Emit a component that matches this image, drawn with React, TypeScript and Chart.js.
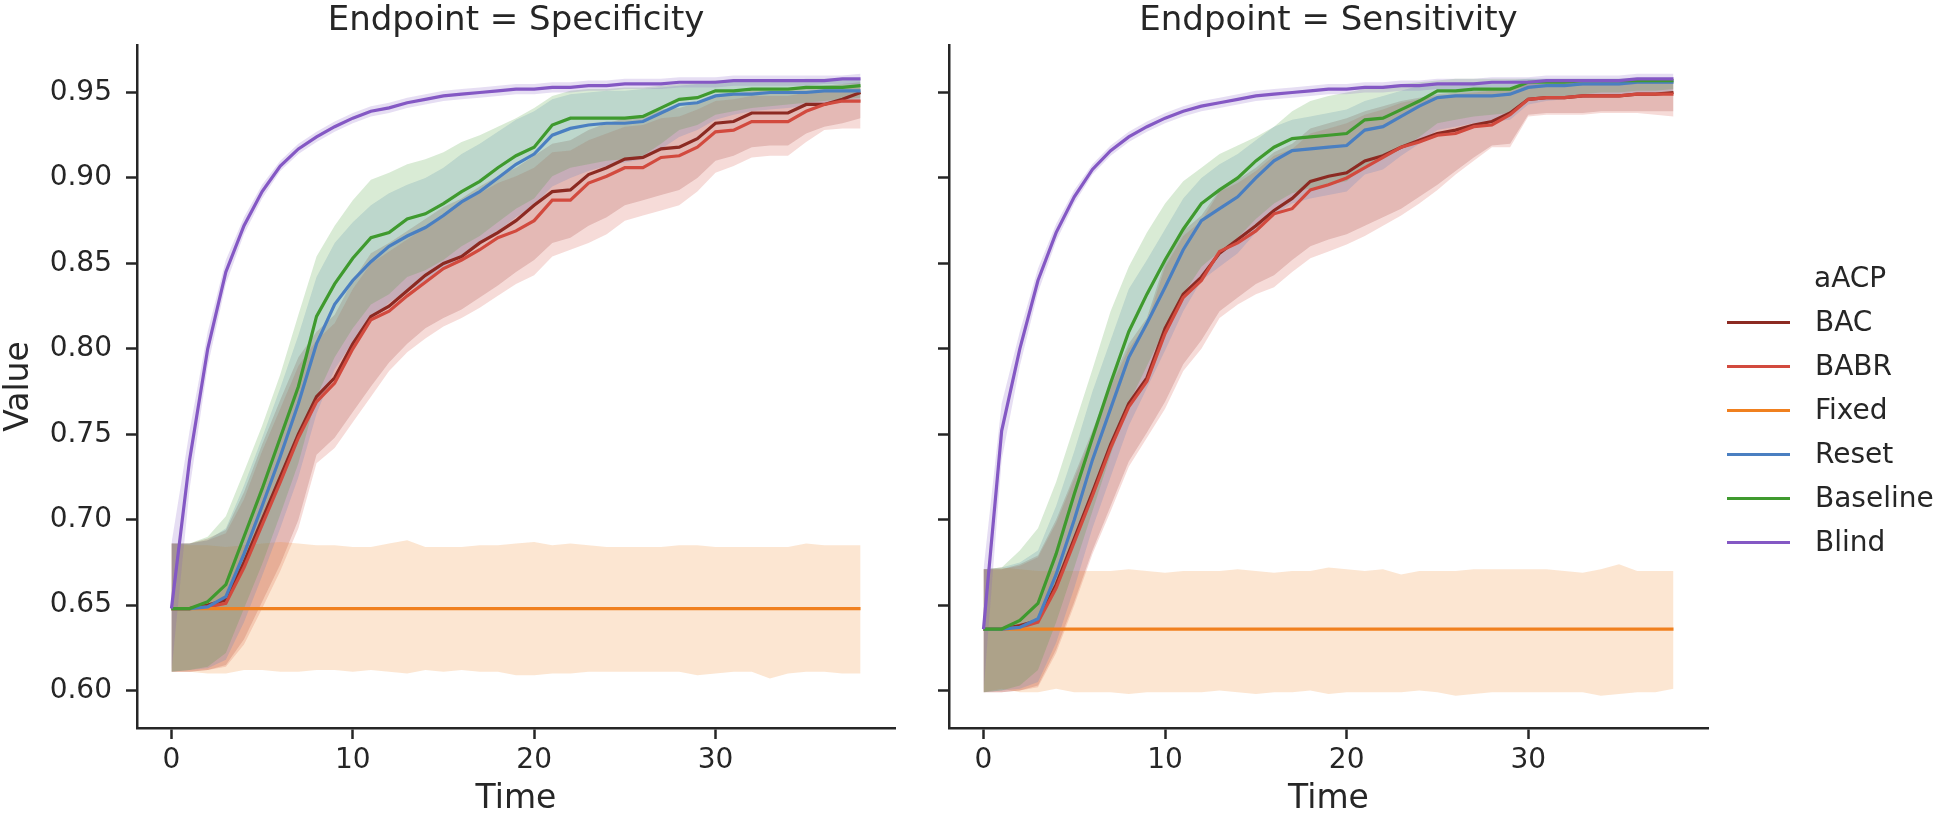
import React, { useEffect, useRef } from 'react';
import { Chart, registerables } from 'chart.js';

Chart.register(...registerables);

// ---------------- data ----------------
const TIME = [0, 1, 2, 3, 4, 5, 6, 7, 8, 9, 10, 11, 12, 13, 14, 15, 16, 17, 18, 19, 20, 21, 22, 23, 24, 25, 26, 27, 28, 29, 30, 31, 32, 33, 34, 35, 36, 37, 38];
const X_TICKS = [0, 10, 20, 30];
const Y_TICKS = [0.6, 0.65, 0.7, 0.75, 0.8, 0.85, 0.9, 0.95];
const SERIES_NAMES = ['BAC', 'BABR', 'Fixed', 'Reset', 'Baseline', 'Blind'];
const SERIES_COLORS = ['#8c2a22', '#d24a3e', '#f0801f', '#4a7fc1', '#3f9a2e', '#8458c4'];
const LEGEND_TITLE = 'aACP';
const PANEL_TITLES = ['Endpoint = Specificity', 'Endpoint = Sensitivity'];

// ---- Specificity ----
const SPEC_BAC_MEAN = [
  0.648, 0.648, 0.650, 0.653, 0.675, 0.700, 0.725, 0.750, 0.772, 0.783,
  0.803, 0.819, 0.825, 0.834, 0.843, 0.850, 0.854, 0.862, 0.868, 0.875,
  0.884, 0.892, 0.893, 0.902, 0.906, 0.911, 0.912, 0.917, 0.918, 0.923,
  0.932, 0.933, 0.938, 0.938, 0.938, 0.943, 0.943, 0.946, 0.950];
const SPEC_BAC_LO = [
  0.611, 0.611, 0.612, 0.615, 0.630, 0.652, 0.674, 0.700, 0.738, 0.748,
  0.763, 0.778, 0.792, 0.803, 0.812, 0.818, 0.823, 0.830, 0.837, 0.845,
  0.852, 0.862, 0.865, 0.872, 0.877, 0.884, 0.887, 0.890, 0.893, 0.900,
  0.910, 0.913, 0.918, 0.919, 0.919, 0.926, 0.930, 0.932, 0.935];
const SPEC_BAC_HI = [
  0.686, 0.686, 0.689, 0.694, 0.716, 0.744, 0.770, 0.795, 0.810, 0.820,
  0.840, 0.856, 0.862, 0.869, 0.876, 0.883, 0.888, 0.895, 0.901, 0.906,
  0.913, 0.920, 0.922, 0.928, 0.932, 0.935, 0.936, 0.940, 0.941, 0.944,
  0.948, 0.949, 0.951, 0.951, 0.951, 0.953, 0.954, 0.955, 0.956];

const SPEC_BABR_MEAN = [
  0.648, 0.648, 0.649, 0.651, 0.672, 0.697, 0.722, 0.748, 0.769, 0.780,
  0.800, 0.817, 0.822, 0.831, 0.839, 0.847, 0.852, 0.858, 0.865, 0.869,
  0.875, 0.887, 0.887, 0.897, 0.901, 0.906, 0.906, 0.912, 0.913, 0.918,
  0.927, 0.928, 0.933, 0.933, 0.933, 0.939, 0.943, 0.945, 0.945];
const SPEC_BABR_LO = [
  0.611, 0.611, 0.612, 0.614, 0.627, 0.648, 0.670, 0.695, 0.733, 0.742,
  0.757, 0.772, 0.787, 0.798, 0.806, 0.813, 0.818, 0.824, 0.831, 0.838,
  0.843, 0.854, 0.858, 0.862, 0.867, 0.875, 0.878, 0.881, 0.884, 0.892,
  0.903, 0.907, 0.912, 0.913, 0.913, 0.921, 0.928, 0.929, 0.929];
const SPEC_BABR_HI = [
  0.686, 0.686, 0.688, 0.692, 0.712, 0.740, 0.765, 0.790, 0.805, 0.815,
  0.835, 0.850, 0.857, 0.864, 0.871, 0.879, 0.885, 0.891, 0.897, 0.901,
  0.906, 0.915, 0.916, 0.922, 0.926, 0.930, 0.931, 0.935, 0.936, 0.940,
  0.945, 0.946, 0.948, 0.948, 0.948, 0.950, 0.952, 0.953, 0.953];

const SPEC_FIXED_MEAN = [
  0.648, 0.648, 0.648, 0.648, 0.648, 0.648, 0.648, 0.648, 0.648, 0.648,
  0.648, 0.648, 0.648, 0.648, 0.648, 0.648, 0.648, 0.648, 0.648, 0.648,
  0.648, 0.648, 0.648, 0.648, 0.648, 0.648, 0.648, 0.648, 0.648, 0.648,
  0.648, 0.648, 0.648, 0.648, 0.648, 0.648, 0.648, 0.648, 0.648];
const SPEC_FIXED_LO = [
  0.611, 0.611, 0.610, 0.610, 0.612, 0.612, 0.611, 0.611, 0.612, 0.612,
  0.611, 0.612, 0.611, 0.610, 0.612, 0.611, 0.612, 0.611, 0.611, 0.609,
  0.609, 0.610, 0.610, 0.611, 0.611, 0.611, 0.611, 0.611, 0.611, 0.609,
  0.610, 0.611, 0.611, 0.607, 0.610, 0.611, 0.611, 0.610, 0.610];
const SPEC_FIXED_HI = [
  0.686, 0.685, 0.685, 0.684, 0.685, 0.686, 0.687, 0.686, 0.685, 0.685,
  0.684, 0.684, 0.686, 0.688, 0.684, 0.684, 0.684, 0.685, 0.685, 0.686,
  0.687, 0.685, 0.686, 0.685, 0.684, 0.684, 0.684, 0.684, 0.685, 0.685,
  0.684, 0.684, 0.684, 0.684, 0.684, 0.686, 0.685, 0.685, 0.685];

const SPEC_RESET_MEAN = [
  0.648, 0.648, 0.649, 0.655, 0.680, 0.708, 0.737, 0.768, 0.803, 0.826,
  0.840, 0.851, 0.860, 0.866, 0.871, 0.878, 0.886, 0.892, 0.900, 0.908,
  0.914, 0.925, 0.929, 0.931, 0.932, 0.932, 0.933, 0.938, 0.943, 0.944,
  0.948, 0.949, 0.949, 0.950, 0.950, 0.950, 0.951, 0.951, 0.951];
const SPEC_RESET_LO = [
  0.611, 0.612, 0.613, 0.618, 0.640, 0.667, 0.695, 0.725, 0.762, 0.788,
  0.804, 0.817, 0.827, 0.834, 0.839, 0.846, 0.854, 0.861, 0.869, 0.877,
  0.884, 0.895, 0.900, 0.904, 0.907, 0.909, 0.911, 0.917, 0.924, 0.928,
  0.934, 0.937, 0.939, 0.940, 0.941, 0.942, 0.943, 0.944, 0.945];
const SPEC_RESET_HI = [
  0.686, 0.686, 0.688, 0.695, 0.720, 0.748, 0.777, 0.808, 0.842, 0.862,
  0.874, 0.884, 0.891, 0.896, 0.900, 0.906, 0.914, 0.920, 0.927, 0.934,
  0.939, 0.946, 0.949, 0.950, 0.951, 0.951, 0.952, 0.953, 0.954, 0.955,
  0.956, 0.956, 0.956, 0.956, 0.957, 0.957, 0.957, 0.957, 0.957];

const SPEC_BASELINE_MEAN = [
  0.648, 0.648, 0.652, 0.662, 0.690, 0.718, 0.748, 0.778, 0.819, 0.838,
  0.853, 0.865, 0.868, 0.876, 0.879, 0.885, 0.892, 0.898, 0.906, 0.913,
  0.918, 0.931, 0.935, 0.935, 0.935, 0.935, 0.936, 0.941, 0.946, 0.947,
  0.951, 0.951, 0.952, 0.952, 0.952, 0.953, 0.953, 0.953, 0.954];
const SPEC_BASELINE_LO = [
  0.611, 0.612, 0.614, 0.622, 0.648, 0.674, 0.703, 0.733, 0.772, 0.795,
  0.812, 0.826, 0.832, 0.842, 0.846, 0.852, 0.860, 0.866, 0.874, 0.882,
  0.888, 0.901, 0.906, 0.908, 0.910, 0.911, 0.913, 0.920, 0.928, 0.931,
  0.937, 0.939, 0.941, 0.942, 0.943, 0.944, 0.945, 0.946, 0.947];
const SPEC_BASELINE_HI = [
  0.686, 0.686, 0.690, 0.702, 0.728, 0.755, 0.785, 0.820, 0.854, 0.872,
  0.887, 0.899, 0.903, 0.908, 0.911, 0.915, 0.921, 0.925, 0.930, 0.935,
  0.941, 0.948, 0.951, 0.952, 0.952, 0.953, 0.953, 0.954, 0.955, 0.956,
  0.957, 0.957, 0.957, 0.957, 0.957, 0.958, 0.958, 0.958, 0.958];

const SPEC_BLIND_MEAN = [
  0.648, 0.735, 0.800, 0.845, 0.872, 0.892, 0.907, 0.917, 0.924, 0.930,
  0.935, 0.939, 0.941, 0.944, 0.946, 0.948, 0.949, 0.950, 0.951, 0.952,
  0.952, 0.953, 0.953, 0.954, 0.954, 0.955, 0.955, 0.955, 0.956, 0.956,
  0.956, 0.957, 0.957, 0.957, 0.957, 0.957, 0.957, 0.958, 0.958];
const SPEC_BLIND_LO = [
  0.611, 0.718, 0.790, 0.838, 0.867, 0.888, 0.904, 0.914, 0.921, 0.927,
  0.932, 0.936, 0.938, 0.941, 0.943, 0.945, 0.946, 0.947, 0.948, 0.949,
  0.949, 0.950, 0.950, 0.951, 0.951, 0.952, 0.952, 0.952, 0.953, 0.953,
  0.953, 0.954, 0.954, 0.954, 0.954, 0.954, 0.955, 0.955, 0.955];
const SPEC_BLIND_HI = [
  0.686, 0.752, 0.810, 0.852, 0.877, 0.896, 0.910, 0.920, 0.927, 0.933,
  0.938, 0.942, 0.944, 0.947, 0.949, 0.951, 0.952, 0.953, 0.954, 0.955,
  0.955, 0.956, 0.956, 0.957, 0.957, 0.958, 0.958, 0.958, 0.959, 0.959,
  0.959, 0.960, 0.960, 0.960, 0.960, 0.960, 0.960, 0.960, 0.961];

// ---- Sensitivity ----
const SENS_BAC_MEAN = [
  0.636, 0.636, 0.638, 0.641, 0.662, 0.689, 0.716, 0.744, 0.768, 0.783,
  0.812, 0.832, 0.842, 0.856, 0.864, 0.872, 0.881, 0.888, 0.898, 0.901,
  0.903, 0.910, 0.913, 0.918, 0.922, 0.926, 0.928, 0.931, 0.933, 0.938,
  0.946, 0.947, 0.947, 0.948, 0.948, 0.948, 0.949, 0.949, 0.950];
const SENS_BAC_LO = [
  0.599, 0.599, 0.600, 0.603, 0.624, 0.652, 0.682, 0.708, 0.734, 0.751,
  0.769, 0.791, 0.805, 0.822, 0.830, 0.838, 0.843, 0.852, 0.860, 0.864,
  0.867, 0.872, 0.877, 0.882, 0.889, 0.896, 0.904, 0.912, 0.919, 0.920,
  0.937, 0.938, 0.938, 0.938, 0.939, 0.939, 0.939, 0.939, 0.939];
const SENS_BAC_HI = [
  0.671, 0.671, 0.674, 0.679, 0.700, 0.726, 0.752, 0.780, 0.803, 0.818,
  0.851, 0.869, 0.878, 0.893, 0.899, 0.906, 0.915, 0.920, 0.929, 0.932,
  0.935, 0.939, 0.942, 0.945, 0.947, 0.949, 0.950, 0.951, 0.952, 0.953,
  0.955, 0.955, 0.956, 0.956, 0.956, 0.957, 0.957, 0.957, 0.957];

const SENS_BABR_MEAN = [
  0.636, 0.636, 0.637, 0.640, 0.660, 0.687, 0.714, 0.742, 0.766, 0.781,
  0.809, 0.830, 0.840, 0.857, 0.862, 0.869, 0.879, 0.882, 0.893, 0.896,
  0.900, 0.906, 0.912, 0.918, 0.921, 0.925, 0.926, 0.930, 0.931, 0.937,
  0.946, 0.947, 0.947, 0.948, 0.948, 0.948, 0.949, 0.949, 0.949];
const SENS_BABR_LO = [
  0.599, 0.599, 0.600, 0.602, 0.622, 0.650, 0.680, 0.705, 0.731, 0.748,
  0.765, 0.787, 0.800, 0.818, 0.826, 0.832, 0.836, 0.845, 0.853, 0.857,
  0.861, 0.866, 0.872, 0.878, 0.885, 0.893, 0.902, 0.910, 0.918, 0.918,
  0.936, 0.937, 0.937, 0.937, 0.938, 0.938, 0.938, 0.937, 0.936];
const SENS_BABR_HI = [
  0.671, 0.671, 0.673, 0.678, 0.698, 0.724, 0.750, 0.778, 0.800, 0.815,
  0.848, 0.866, 0.875, 0.892, 0.897, 0.904, 0.913, 0.917, 0.926, 0.929,
  0.932, 0.937, 0.940, 0.944, 0.946, 0.948, 0.949, 0.950, 0.951, 0.952,
  0.955, 0.955, 0.955, 0.956, 0.956, 0.956, 0.957, 0.957, 0.957];

const SENS_FIXED_MEAN = [
  0.636, 0.636, 0.636, 0.636, 0.636, 0.636, 0.636, 0.636, 0.636, 0.636,
  0.636, 0.636, 0.636, 0.636, 0.636, 0.636, 0.636, 0.636, 0.636, 0.636,
  0.636, 0.636, 0.636, 0.636, 0.636, 0.636, 0.636, 0.636, 0.636, 0.636,
  0.636, 0.636, 0.636, 0.636, 0.636, 0.636, 0.636, 0.636, 0.636];
const SENS_FIXED_LO = [
  0.599, 0.601, 0.599, 0.599, 0.601, 0.599, 0.599, 0.599, 0.598, 0.599,
  0.599, 0.599, 0.599, 0.600, 0.599, 0.598, 0.599, 0.599, 0.600, 0.598,
  0.599, 0.599, 0.599, 0.599, 0.600, 0.599, 0.597, 0.598, 0.599, 0.599,
  0.599, 0.599, 0.599, 0.599, 0.597, 0.598, 0.599, 0.599, 0.601];
const SENS_FIXED_HI = [
  0.671, 0.672, 0.671, 0.670, 0.670, 0.670, 0.670, 0.670, 0.671, 0.670,
  0.669, 0.670, 0.670, 0.670, 0.671, 0.670, 0.669, 0.670, 0.670, 0.672,
  0.671, 0.670, 0.671, 0.668, 0.670, 0.670, 0.670, 0.671, 0.671, 0.671,
  0.671, 0.671, 0.670, 0.669, 0.671, 0.674, 0.670, 0.670, 0.670];

const SENS_RESET_MEAN = [
  0.636, 0.636, 0.637, 0.642, 0.668, 0.700, 0.735, 0.765, 0.795, 0.815,
  0.836, 0.858, 0.875, 0.882, 0.889, 0.900, 0.910, 0.916, 0.917, 0.918,
  0.919, 0.928, 0.930, 0.936, 0.942, 0.947, 0.948, 0.948, 0.948, 0.949,
  0.953, 0.954, 0.954, 0.955, 0.955, 0.955, 0.956, 0.956, 0.956];
const SENS_RESET_LO = [
  0.599, 0.600, 0.601, 0.605, 0.628, 0.660, 0.695, 0.725, 0.755, 0.777,
  0.799, 0.822, 0.840, 0.848, 0.856, 0.868, 0.878, 0.885, 0.888, 0.890,
  0.892, 0.902, 0.905, 0.913, 0.920, 0.928, 0.930, 0.932, 0.933, 0.934,
  0.943, 0.945, 0.946, 0.947, 0.948, 0.948, 0.949, 0.950, 0.951];
const SENS_RESET_HI = [
  0.671, 0.672, 0.675, 0.682, 0.708, 0.740, 0.775, 0.805, 0.835, 0.852,
  0.870, 0.888, 0.900, 0.908, 0.914, 0.922, 0.930, 0.934, 0.936, 0.938,
  0.940, 0.945, 0.948, 0.951, 0.954, 0.955, 0.956, 0.956, 0.956, 0.957,
  0.958, 0.958, 0.958, 0.958, 0.958, 0.958, 0.958, 0.958, 0.958];

const SENS_BASELINE_MEAN = [
  0.636, 0.636, 0.641, 0.651, 0.680, 0.715, 0.748, 0.780, 0.810, 0.832,
  0.852, 0.870, 0.885, 0.893, 0.900, 0.910, 0.918, 0.923, 0.924, 0.925,
  0.926, 0.934, 0.935, 0.940, 0.945, 0.951, 0.951, 0.952, 0.952, 0.952,
  0.956, 0.956, 0.956, 0.957, 0.957, 0.957, 0.957, 0.957, 0.957];
const SENS_BASELINE_LO = [
  0.599, 0.600, 0.603, 0.612, 0.640, 0.672, 0.705, 0.738, 0.768, 0.790,
  0.812, 0.832, 0.848, 0.857, 0.865, 0.876, 0.885, 0.891, 0.894, 0.896,
  0.898, 0.907, 0.911, 0.917, 0.924, 0.932, 0.934, 0.936, 0.937, 0.938,
  0.945, 0.947, 0.948, 0.949, 0.950, 0.950, 0.951, 0.951, 0.952];
const SENS_BASELINE_HI = [
  0.671, 0.672, 0.682, 0.695, 0.722, 0.755, 0.788, 0.822, 0.848, 0.868,
  0.885, 0.898, 0.906, 0.914, 0.919, 0.924, 0.930, 0.939, 0.945, 0.948,
  0.950, 0.952, 0.954, 0.955, 0.956, 0.957, 0.958, 0.958, 0.958, 0.958,
  0.958, 0.958, 0.958, 0.958, 0.958, 0.958, 0.958, 0.958, 0.958];

const SENS_BLIND_MEAN = [
  0.636, 0.752, 0.800, 0.840, 0.868, 0.889, 0.905, 0.916, 0.924, 0.930,
  0.935, 0.939, 0.942, 0.944, 0.946, 0.948, 0.949, 0.950, 0.951, 0.952,
  0.952, 0.953, 0.953, 0.954, 0.954, 0.955, 0.955, 0.955, 0.956, 0.956,
  0.956, 0.957, 0.957, 0.957, 0.957, 0.957, 0.958, 0.958, 0.958];
const SENS_BLIND_LO = [
  0.599, 0.735, 0.790, 0.833, 0.863, 0.885, 0.902, 0.913, 0.921, 0.927,
  0.932, 0.936, 0.939, 0.941, 0.943, 0.945, 0.946, 0.947, 0.948, 0.949,
  0.949, 0.950, 0.950, 0.951, 0.951, 0.952, 0.952, 0.952, 0.953, 0.953,
  0.953, 0.954, 0.954, 0.954, 0.954, 0.954, 0.955, 0.955, 0.955];
const SENS_BLIND_HI = [
  0.671, 0.768, 0.810, 0.847, 0.873, 0.893, 0.908, 0.919, 0.927, 0.933,
  0.938, 0.942, 0.945, 0.947, 0.949, 0.951, 0.952, 0.953, 0.954, 0.955,
  0.955, 0.956, 0.956, 0.957, 0.957, 0.958, 0.958, 0.958, 0.959, 0.959,
  0.959, 0.960, 0.960, 0.960, 0.960, 0.960, 0.961, 0.961, 0.961];

const SPEC_MEANS = [SPEC_BAC_MEAN, SPEC_BABR_MEAN, SPEC_FIXED_MEAN, SPEC_RESET_MEAN, SPEC_BASELINE_MEAN, SPEC_BLIND_MEAN];
const SPEC_LOS = [SPEC_BAC_LO, SPEC_BABR_LO, SPEC_FIXED_LO, SPEC_RESET_LO, SPEC_BASELINE_LO, SPEC_BLIND_LO];
const SPEC_HIS = [SPEC_BAC_HI, SPEC_BABR_HI, SPEC_FIXED_HI, SPEC_RESET_HI, SPEC_BASELINE_HI, SPEC_BLIND_HI];
const SENS_MEANS = [SENS_BAC_MEAN, SENS_BABR_MEAN, SENS_FIXED_MEAN, SENS_RESET_MEAN, SENS_BASELINE_MEAN, SENS_BLIND_MEAN];
const SENS_LOS = [SENS_BAC_LO, SENS_BABR_LO, SENS_FIXED_LO, SENS_RESET_LO, SENS_BASELINE_LO, SENS_BLIND_LO];
const SENS_HIS = [SENS_BAC_HI, SENS_BABR_HI, SENS_FIXED_HI, SENS_RESET_HI, SENS_BASELINE_HI, SENS_BLIND_HI];

// ---------------- styling ----------------
const FONT = "'DejaVu Sans', 'Liberation Sans', sans-serif";
const INK = '#262626';
const Y_MIN = 0.5781;
const Y_MAX = 0.9778;
const X_MIN = -1.9;
const X_MAX = 39.9;

function rgba(hex: string, a: number): string {
  const n = parseInt(hex.slice(1), 16);
  return `rgba(${(n >> 16) & 255},${(n >> 8) & 255},${n & 255},${a})`;
}

function toPoints(values: number[]) {
  return TIME.map((t, k) => ({ x: t, y: values[k] }));
}

function buildConfig(
  title: string,
  means: number[][],
  los: number[][],
  his: number[][],
  showYLabels: boolean,
  yWidth: number,
  padRight: number
): any {
  const datasets: any[] = [];
  SERIES_NAMES.forEach((name, i) => {
    datasets.push({
      label: name + ' lo',
      data: toPoints(los[i]),
      borderColor: 'rgba(0,0,0,0)',
      borderWidth: 0,
      pointRadius: 0,
      fill: false,
      order: 50 - i,
    });
    datasets.push({
      label: name + ' hi',
      data: toPoints(his[i]),
      borderColor: 'rgba(0,0,0,0)',
      backgroundColor: rgba(SERIES_COLORS[i], 0.2),
      borderWidth: 0,
      pointRadius: 0,
      fill: '-1',
      order: 50 - i,
    });
  });
  SERIES_NAMES.forEach((name, i) => {
    datasets.push({
      label: name,
      data: toPoints(means[i]),
      borderColor: SERIES_COLORS[i],
      backgroundColor: SERIES_COLORS[i],
      borderWidth: 3.2,
      pointRadius: 0,
      fill: false,
      order: 20 - i,
    });
  });

  const tickFont = { family: FONT, size: 28 };
  const labelFont = { family: FONT, size: 33 };

  return {
    type: 'line',
    data: { datasets },
    options: {
      responsive: false,
      animation: false,
      devicePixelRatio: 1,
      layout: { padding: { left: 0, right: padRight, top: 0, bottom: 0 } },
      plugins: {
        legend: { display: false },
        tooltip: { enabled: false },
        filler: { drawTime: 'beforeDatasetsDraw' },
        title: {
          display: true,
          text: title,
          color: INK,
          fullSize: false,
          font: { family: FONT, size: 34, weight: 'normal' },
          padding: { top: 1, bottom: 3.2 },
        },
      },
      elements: { line: { tension: 0 } },
      scales: {
        x: {
          type: 'linear',
          min: X_MIN,
          max: X_MAX,
          afterBuildTicks: (s: any) => {
            s.ticks = X_TICKS.map((v) => ({ value: v }));
          },
          afterFit: (s: any) => {
            s.height = 91;
          },
          grid: {
            drawOnChartArea: false,
            drawTicks: true,
            tickLength: 11,
            tickWidth: 2.5,
            tickColor: INK,
          },
          border: { display: true, color: INK, width: 2.5 },
          ticks: {
            color: INK,
            font: tickFont,
            padding: 5,
            maxRotation: 0,
            autoSkip: false,
            callback: (v: any) => String(v),
          },
          title: {
            display: true,
            text: 'Time',
            color: INK,
            font: labelFont,
            padding: { top: 0, bottom: 0 },
          },
        },
        y: {
          type: 'linear',
          min: Y_MIN,
          max: Y_MAX,
          afterBuildTicks: (s: any) => {
            s.ticks = Y_TICKS.map((v) => ({ value: v }));
          },
          afterFit: (s: any) => {
            s.width = yWidth;
          },
          grid: {
            drawOnChartArea: false,
            drawTicks: true,
            tickLength: 11,
            tickWidth: 2.5,
            tickColor: INK,
          },
          border: { display: true, color: INK, width: 2.5 },
          ticks: {
            display: showYLabels,
            color: INK,
            font: tickFont,
            padding: 14,
            autoSkip: false,
            callback: (v: any) => Number(v).toFixed(2),
          },
          title: {
            display: showYLabels,
            text: 'Value',
            color: INK,
            font: labelFont,
            padding: { top: 0, bottom: 0 },
          },
        },
      },
    },
  };
}

function Panel(props: {
  left: number;
  width: number;
  title: string;
  means: number[][];
  los: number[][];
  his: number[][];
  showYLabels: boolean;
  yWidth: number;
  padRight: number;
}) {
  const ref = useRef<HTMLCanvasElement | null>(null);
  useEffect(() => {
    if (!ref.current) return;
    const chart = new Chart(
      ref.current,
      buildConfig(props.title, props.means, props.los, props.his, props.showYLabels, props.yWidth, props.padRight)
    );
    return () => chart.destroy();
  }, []);
  return (
    <canvas
      ref={ref}
      width={props.width}
      height={819}
      style={{ position: 'absolute', left: props.left, top: 0, width: props.width, height: 819 }}
    />
  );
}

function Legend() {
  const textLeft = 1815;
  const lineLeft = 1727;
  const lineWidth = 63;
  const firstY = 322;
  const step = 44;
  const textStyle: React.CSSProperties = {
    position: 'absolute',
    fontFamily: FONT,
    fontSize: 28,
    lineHeight: '28px',
    color: INK,
    whiteSpace: 'nowrap',
  };
  return (
    <>
      <div style={{ ...textStyle, left: textLeft - 1, top: 278 - 14 }}>{LEGEND_TITLE}</div>
      {SERIES_NAMES.map((name, i) => {
        const cy = firstY + i * step;
        return (
          <React.Fragment key={name}>
            <div
              style={{
                position: 'absolute',
                left: lineLeft,
                top: cy - 1.5,
                width: lineWidth,
                height: 3,
                background: SERIES_COLORS[i],
              }}
            />
            <div style={{ ...textStyle, left: textLeft, top: cy - 14 }}>{name}</div>
          </React.Fragment>
        );
      })}
    </>
  );
}

export default function App() {
  return (
    <div style={{ position: 'absolute', left: 0, top: 0, width: 1950, height: 819, background: '#ffffff', overflow: 'hidden' }}>
      <Panel
        left={0}
        width={920}
        title={PANEL_TITLES[0]}
        means={SPEC_MEANS}
        los={SPEC_LOS}
        his={SPEC_HIS}
        showYLabels={true}
        yWidth={137}
        padRight={25}
      />
      <Panel
        left={920}
        width={1030}
        title={PANEL_TITLES[1]}
        means={SENS_MEANS}
        los={SENS_LOS}
        his={SENS_HIS}
        showYLabels={false}
        yWidth={29}
        padRight={242}
      />
      <Legend />
    </div>
  );
}
